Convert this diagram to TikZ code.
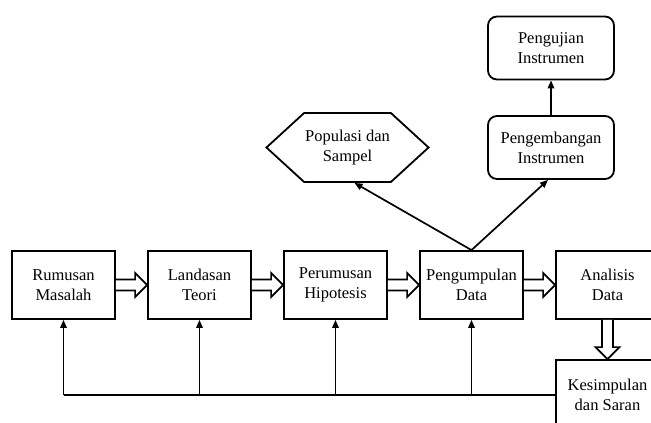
\documentclass[tikz,border=0pt]{standalone}
\usepackage{fontspec}
\setmainfont{Liberation Serif}
\usetikzlibrary{arrows.meta,calc,shapes.symbols}

\begin{document}
\begin{tikzpicture}[x=1pt, y=-1pt,
	box/.style={draw, line width=1.8pt, minimum width=103pt, minimum height=68pt, align=center, inner sep=1pt, font=\fontsize{16.5}{20}\selectfont},
	rbox/.style={box, rounded corners=9pt, minimum width=126pt, minimum height=63pt},
	hexa/.style={box, signal, signal to=west and east, signal pointer angle=85, minimum width=149pt, minimum height=69pt},
	link/.style={line width=1.7pt, -{Triangle[length=8pt,width=6.5pt]}},
	fat/.style={line width=1.7pt, fill=white, line join=miter, to path={
		($(\tikztostart)!5.5pt!90:(\tikztotarget)$)
		-- ($(\tikztotarget)!12pt!(\tikztostart)!5.5pt!90:(\tikztotarget)$)
		-- ($(\tikztotarget)!12pt!(\tikztostart)!12pt!90:(\tikztotarget)$)
		-- (\tikztotarget)
		-- ($(\tikztotarget)!12pt!(\tikztostart)!12pt!-90:(\tikztotarget)$)
		-- ($(\tikztotarget)!12pt!(\tikztostart)!5.5pt!-90:(\tikztotarget)$)
		-- ($(\tikztostart)!5.5pt!-90:(\tikztotarget)$)}}]
			
			\clip (0, 0) rectangle (651, 423);
			
			\node[box] (rumusan) at (63.5, 285) {Rumusan\\Masalah};
			\node[box] (landasan) at (199.5, 285) {Landasan\\Teori};
			\node[box] (perumusan) at (335.5, 285) {Perumusan\\Hipotesis};
			\node[box] (pengumpulan) at (471.5, 285) {Pengumpulan\\Data};
			\node[box] (analisis) at (607.5, 285) {Analisis\\Data};
			\node[box, minimum height=70pt] (kesimpulan) at (607.5, 395) {Kesimpulan\\dan Saran};
			\node[hexa] (populasi) at (347.5, 147.5) {Populasi dan\\Sampel};
			\node[rbox] (pengembangan) at (551, 147.5) {Pengembangan\\Instrumen};
			\node[rbox] (pengujian) at (551, 48) {Pengujian\\Instrumen};
			
			\draw[fat] (rumusan.east) to (landasan.west);
			\draw[fat] (landasan.east) to (perumusan.west);
			\draw[fat] (perumusan.east) to (pengumpulan.west);
			\draw[fat] (pengumpulan.east) to (analisis.west);
			\draw[fat] (analisis.south) to (kesimpulan.north);
			
			\draw[line width=1.7pt] (kesimpulan.west) -- (rumusan.south |- kesimpulan.west);
			\foreach \n in {rumusan, landasan, perumusan, pengumpulan}
				\draw[link] (\n.south |- kesimpulan.west) -- (\n.south);
			
			\draw[link] (pengumpulan.north) -- ([xshift=7pt]populasi.south);
			\draw[link] (pengumpulan.north) -- ([xshift=-3pt]pengembangan.south);
			\draw[link] (pengembangan) -- (pengujian);
			
		\end{tikzpicture}
\end{document}
